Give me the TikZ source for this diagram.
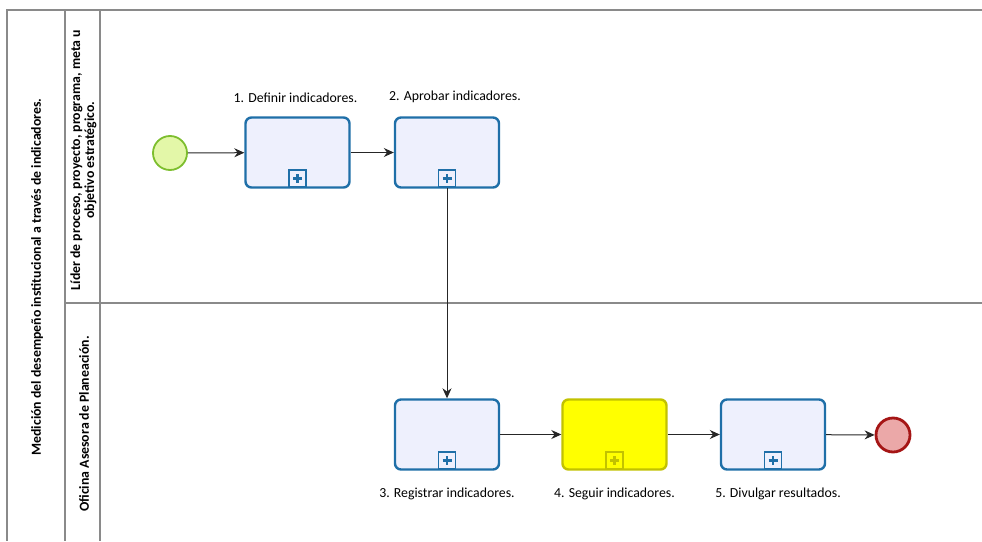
\documentclass[tikz,border=0pt]{standalone}
\usepackage{fontspec}
\setmainfont{Carlito}
\usetikzlibrary{arrows.meta,calc}
\definecolor{taskfill}{HTML}{EEF0FD}
\definecolor{taskdraw}{HTML}{1F6FA8}
\definecolor{yfill}{HTML}{FFFF00}
\definecolor{ydraw}{HTML}{C2C200}
\definecolor{sfill}{HTML}{E3F7A8}
\definecolor{sdraw}{HTML}{7DBE2E}
\definecolor{efill}{HTML}{EBA8A8}
\definecolor{edraw}{HTML}{A51515}
\definecolor{pool}{HTML}{8A8A8A}
\tikzset{
  task/.style={draw=taskdraw, fill=taskfill, line width=2.4pt, rounded corners=6pt,
    minimum width=104pt, minimum height=70pt, inner sep=0pt},
  ytask/.style={task, draw=ydraw, fill=yfill},
  marker/.style={draw=taskdraw, fill=taskfill, line width=1.5pt, minimum size=17pt, inner sep=0pt},
  ymarker/.style={marker, draw=ydraw, fill=yfill},
  plusline/.style={draw=taskdraw, line width=2.6pt},
  yplusline/.style={draw=ydraw, line width=2.6pt},
  startev/.style={circle, draw=sdraw, fill=sfill, line width=1.8pt, minimum size=34pt, inner sep=0pt},
  endev/.style={circle, draw=edraw, fill=efill, line width=2.8pt, minimum size=34pt, inner sep=0pt},
  flow/.style={draw=black!85, line width=1pt, -{Stealth[length=10pt,width=9pt]}},
  lbl/.style={font=\fontsize{13.8}{15}\selectfont, inner sep=0pt},
  hdr/.style={font=\bfseries\fontsize{13.8}{14}\selectfont, rotate=90, align=center, inner sep=0pt},
  poolline/.style={draw=pool, line width=1.6pt}
}
\newcommand{\subproc}[3]{%
  \node[#2] (#1m) at ($(#1.south)+(0,-10)$) {};
  \draw[#3] ($(#1m.center)+(-4.5,0)$) -- ($(#1m.center)+(4.5,0)$);
  \draw[#3] ($(#1m.center)+(0,-4.5)$) -- ($(#1m.center)+(0,4.5)$);
}
\begin{document}
\begin{tikzpicture}[x=1pt,y=-1pt]
\useasboundingbox (0,0) rectangle (982,541);
% pool and lanes
\coordinate (pTL) at (7,10);
\coordinate (pTR) at (982,10);
\coordinate (pBL) at (7,541);
\coordinate (hA) at (65,10);
\coordinate (hAb) at (65,541);
\coordinate (hB) at (100,10);
\coordinate (hBb) at (100,541);
\coordinate (dL) at (65,303);
\coordinate (dR) at (982,303);
\draw[poolline] (pTR) -- (pTL) -- (pBL);
\draw[poolline] (hA) -- (hAb);
\draw[poolline] (hB) -- (hBb);
\draw[poolline] (dL) -- (dR);
\node[hdr] (pooltitle) at (37,277) {Medición del desempeño institucional a través de indicadores.};
\node[hdr] (lane1) at (83.5,160) {Líder de proceso, proyecto, programa, meta u\\objetivo estratégico.};
\node[hdr] (lane2) at (84,424) {Oficina Asesora de Planeación.};
% events and tasks
\node[startev] (start) at (170,153) {};
\node[task] (t1) at (297.5,152.5) {};
\node[task] (t2) at (447,152.5) {};
\node[task] (t3) at (447,434.5) {};
\node[ytask] (t4) at (614.5,434.5) {};
\node[task] (t5) at (773,434.5) {};
\node[endev] (end) at (893,435) {};
\subproc{t1}{marker}{plusline}
\subproc{t2}{marker}{plusline}
\subproc{t3}{marker}{plusline}
\subproc{t4}{ymarker}{yplusline}
\subproc{t5}{marker}{plusline}
% labels
\node[lbl] (l1) at ($(t1.north)+(-2,-19)$) {1. Definir indicadores.};
\node[lbl] (l2) at ($(t2.north)+(8,-19)$) {2. Aprobar indicadores.};
\node[lbl] (l3) at ($(t3.south)+(0,23)$) {3. Registrar indicadores.};
\node[lbl] (l4) at ($(t4.south)+(0,23)$) {4. Seguir indicadores.};
\node[lbl] (l5) at ($(t5.south)+(5,23)$) {5. Divulgar resultados.};
% flows
\draw[flow] (start) -- (t1);
\draw[flow] (t1) -- (t2);
\draw[flow] (t2m.south) -- (t3.north);
\draw[flow] (t3) -- (t4);
\draw[flow] (t4) -- (t5);
\draw[flow] (t5) -- (end);
\end{tikzpicture}
\end{document}
